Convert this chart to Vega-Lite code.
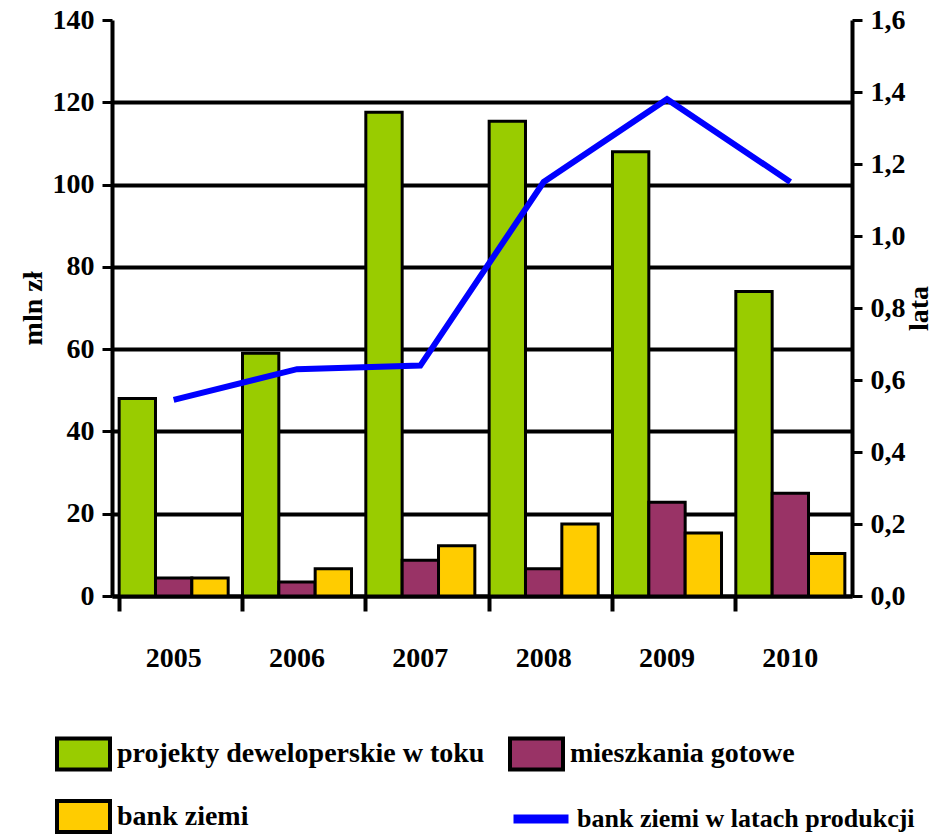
{
  "$schema": "https://vega.github.io/schema/vega-lite/v6.json",
  "width": 740,
  "height": 576,
  "autosize": {"type": "none"},
  "padding": {"left": 112, "top": 20, "right": 82, "bottom": 243},
  "background": "white",
  "config": {
    "view": {"stroke": null},
    "font": "Liberation Serif",
    "axis": {
      "labelFont": "Liberation Serif",
      "labelFontSize": 28,
      "labelFontWeight": "bold",
      "labelColor": "black",
      "titleFont": "Liberation Serif",
      "titleFontSize": 28,
      "titleFontWeight": "bold",
      "titleColor": "black",
      "domainColor": "black",
      "tickColor": "black"
    }
  },
  "datasets": {
    "bars": [
      {"year": "2005", "series": "projekty deweloperskie w toku", "value": 48},
      {"year": "2005", "series": "mieszkania gotowe", "value": 4.4},
      {"year": "2005", "series": "bank ziemi", "value": 4.4},
      {"year": "2006", "series": "projekty deweloperskie w toku", "value": 59},
      {"year": "2006", "series": "mieszkania gotowe", "value": 3.4},
      {"year": "2006", "series": "bank ziemi", "value": 6.6},
      {"year": "2007", "series": "projekty deweloperskie w toku", "value": 117.6},
      {"year": "2007", "series": "mieszkania gotowe", "value": 8.7},
      {"year": "2007", "series": "bank ziemi", "value": 12.2},
      {"year": "2008", "series": "projekty deweloperskie w toku", "value": 115.4},
      {"year": "2008", "series": "mieszkania gotowe", "value": 6.6},
      {"year": "2008", "series": "bank ziemi", "value": 17.5},
      {"year": "2009", "series": "projekty deweloperskie w toku", "value": 108},
      {"year": "2009", "series": "mieszkania gotowe", "value": 22.8},
      {"year": "2009", "series": "bank ziemi", "value": 15.3},
      {"year": "2010", "series": "projekty deweloperskie w toku", "value": 74},
      {"year": "2010", "series": "mieszkania gotowe", "value": 25},
      {"year": "2010", "series": "bank ziemi", "value": 10.3}
    ],
    "line": [
      {"year": "2005", "value": 0.545},
      {"year": "2006", "value": 0.63},
      {"year": "2007", "value": 0.64},
      {"year": "2008", "value": 1.15},
      {"year": "2009", "value": 1.38},
      {"year": "2010", "value": 1.15}
    ]
  },
  "layer": [
    {
      "data": {"name": "bars"},
      "mark": {"type": "bar", "stroke": "black", "strokeWidth": 3},
      "encoding": {
        "x": {
          "field": "year",
          "type": "nominal",
          "scale": {"type": "band", "paddingInner": 0.116, "paddingOuter": 0.058},
          "axis": {
            "orient": "bottom",
            "title": null,
            "labelAngle": 0,
            "ticks": false,
            "domain": true,
            "domainWidth": 4,
            "labelPadding": 48,
            "grid": false
          }
        },
        "xOffset": {
          "field": "series",
          "type": "nominal",
          "scale": {"domain": ["projekty deweloperskie w toku", "mieszkania gotowe", "bank ziemi"]}
        },
        "y": {
          "field": "value",
          "type": "quantitative",
          "scale": {"domain": [0, 140], "nice": false},
          "axis": {
            "title": "mln zł",
            "titleAngle": -90,
            "titleX": -79,
            "titleY": 288,
            "titleAlign": "center",
            "titleBaseline": "middle",
            "values": [0, 20, 40, 60, 80, 100, 120, 140],
            "tickSize": 10,
            "tickWidth": 3,
            "domainWidth": 4,
            "labelPadding": 8,
            "grid": true,
            "gridWidth": 4,
            "gridColor": {"condition": {"test": "datum.value >= 140", "value": "transparent"}, "value": "black"}
          }
        },
        "fill": {
          "field": "series",
          "type": "nominal",
          "scale": {
            "domain": ["projekty deweloperskie w toku", "mieszkania gotowe", "bank ziemi"],
            "range": ["#99cc00", "#993366", "#ffcc00"]
          },
          "legend": {
            "title": null,
            "orient": "none",
            "direction": "horizontal",
            "legendX": -57,
            "legendY": 705,
            "columns": 2,
            "padding": 0,
            "columnPadding": 17,
            "rowPadding": 10,
            "symbolType": "M-1,-0.585H1V0.585H-1Z",
            "symbolSize": 2809,
            "symbolStrokeColor": "black",
            "symbolStrokeWidth": 4,
            "symbolOpacity": 1,
            "labelFont": "Liberation Serif",
            "labelFontSize": 28,
            "labelFontWeight": "bold",
            "labelColor": "black",
            "labelLimit": 600,
            "labelOffset": 5
          }
        }
      }
    },
    {
      "data": {"name": "line"},
      "mark": {"type": "line", "strokeWidth": 6},
      "encoding": {
        "x": {
          "field": "year",
          "type": "nominal",
          "scale": {"type": "band", "paddingInner": 0.116, "paddingOuter": 0.058},
          "axis": {
            "orient": "bottom",
            "title": null,
            "labels": false,
            "domain": false,
            "ticks": true,
            "tickSize": 15,
            "tickWidth": 4,
            "bandPosition": 0,
            "grid": false
          }
        },
        "y": {
          "field": "value",
          "type": "quantitative",
          "scale": {"domain": [0, 1.6], "nice": false},
          "axis": {
            "orient": "right",
            "title": "lata",
            "titleAngle": -90,
            "titleX": 67,
            "titleY": 288,
            "titleAlign": "center",
            "titleBaseline": "middle",
            "values": [0, 0.2, 0.4, 0.6, 0.8, 1.0, 1.2, 1.4, 1.6],
            "labelExpr": "replace(format(datum.value, '.1f'), '.', ',')",
            "tickSize": 10,
            "tickWidth": 3,
            "domainWidth": 4,
            "labelPadding": 8,
            "grid": false
          }
        },
        "stroke": {
          "datum": "bank ziemi w latach produkcji",
          "type": "nominal",
          "scale": {"range": ["#0000ff"]},
          "legend": {
            "title": null,
            "orient": "none",
            "legendX": 397,
            "legendY": 767,
            "padding": 0,
            "symbolType": "stroke",
            "symbolSize": 3025,
            "symbolStrokeWidth": 9,
            "labelFont": "Liberation Serif",
            "labelFontSize": 26,
            "labelFontWeight": "bold",
            "labelColor": "black",
            "labelLimit": 600,
            "labelOffset": 4
          }
        }
      }
    }
  ],
  "resolve": {"scale": {"y": "independent"}, "axis": {"x": "independent", "y": "independent"}}
}
